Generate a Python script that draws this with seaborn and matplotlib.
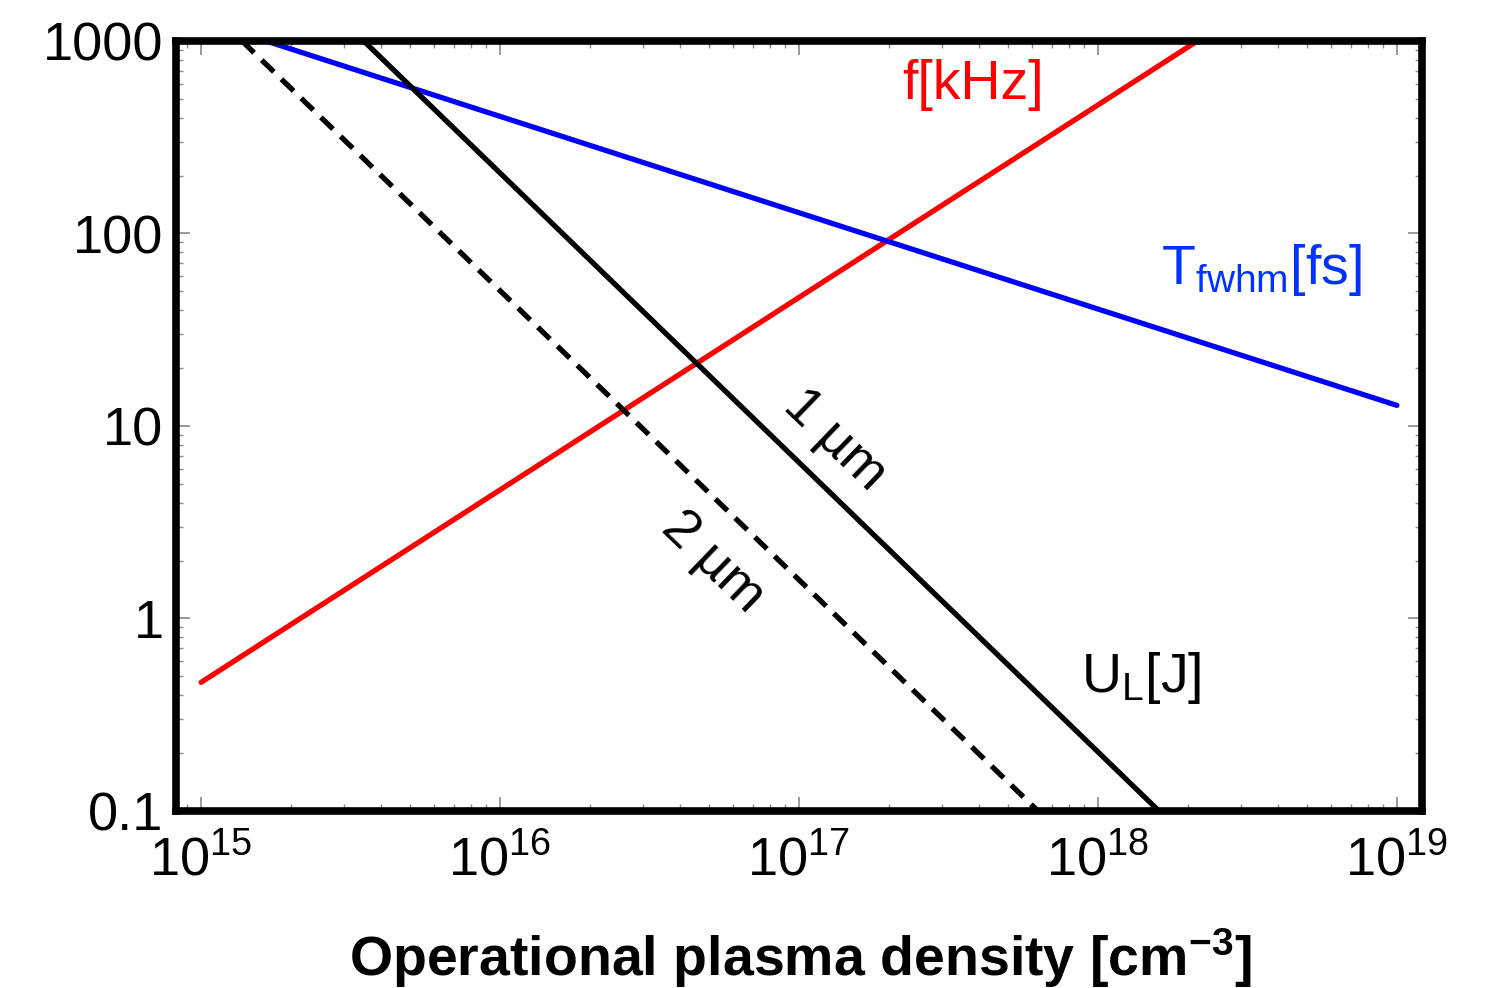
import matplotlib
matplotlib.use("Agg")
import matplotlib.pyplot as plt
import matplotlib.ticker as mticker
import seaborn as sns
import pandas as pd

# values (log-log, straight lines -> endpoints)
density_f = [1.0e15, 2.15e18]
freq_khz = [0.466, 1000]

density_t = [1.65e15, 1.0e19]
tfwhm_fs = [1000, 12.8]

density_u1 = [3.5e15, 1.6e18]
energy_1um = [1000, 0.1]

density_u2 = [1.37e15, 6.3e17]
energy_2um = [1000, 0.1]

y_ticks = [0.1, 1, 10, 100, 1000]
y_tick_labels = ["0.1", "1", "10", "100", "1000"]

sns.set_style("ticks")
plt.rcParams["font.family"] = ["Liberation Sans", "DejaVu Sans"]
plt.rcParams["mathtext.fontset"] = "custom"
plt.rcParams["mathtext.rm"] = "Liberation Sans"
plt.rcParams["mathtext.it"] = "Liberation Sans:italic"
plt.rcParams["mathtext.bf"] = "Liberation Sans:bold"
plt.rcParams["text.color"] = "black"
plt.rcParams["axes.labelcolor"] = "black"

fig = plt.figure(figsize=(14.9, 9.88), dpi=100)
ax = fig.add_axes([176 / 1490, 1 - 811 / 988, 1246 / 1490, 770 / 988])

f_df = pd.DataFrame({"n": density_f, "v": freq_khz})
t_df = pd.DataFrame({"n": density_t, "v": tfwhm_fs})
u1_df = pd.DataFrame({"n": density_u1, "v": energy_1um})
u2_df = pd.DataFrame({"n": density_u2, "v": energy_2um})

lw = 3.8
sns.lineplot(data=f_df, x="n", y="v", ax=ax, color="#ff0000", lw=lw)
sns.lineplot(data=t_df, x="n", y="v", ax=ax, color="#0000ff", lw=lw)
sns.lineplot(data=u1_df, x="n", y="v", ax=ax, color="black", lw=lw)
sns.lineplot(data=u2_df, x="n", y="v", ax=ax, color="black", lw=lw,
             linestyle=(0, (3.2, 2.0)))

ax.set_xscale("log")
ax.set_yscale("log")
ax.set_xlim(10 ** 14.916, 10 ** 19.084)
ax.set_ylim(0.1, 1000)

ax.set_yticks(y_ticks)
ax.set_yticklabels(y_tick_labels)
ax.yaxis.set_minor_formatter(mticker.NullFormatter())
ax.xaxis.set_major_locator(mticker.LogLocator(base=10, numticks=10))
ax.xaxis.set_minor_locator(mticker.LogLocator(base=10, subs=range(2, 10), numticks=20))
ax.xaxis.set_minor_formatter(mticker.NullFormatter())

ax.tick_params(which="both", direction="in", top=True, right=True,
               color="#888888", labelsize=39, labelcolor="black")
ax.tick_params(which="major", length=10, width=1.2)
ax.tick_params(which="minor", length=5, width=1.0)
ax.tick_params(axis="y", which="major", pad=9)
ax.tick_params(axis="x", which="major", pad=17)

for sp in ax.spines.values():
    sp.set_linewidth(5.5)
    sp.set_color("black")

ax.set_xlabel(r"Operational plasma density [cm$^{\mathbf{-3}}$]",
              fontsize=40, fontweight="bold", color="black")
ax.xaxis.label.set_va("center")
ax.xaxis.set_label_coords(0.5008, -0.191)
ax.set_ylabel("")

ax.text(3.82e17, 590, "f[kHz]", color="#ff0000", fontsize=40,
        ha="center", va="center")
ax.text(3.53e18, 64.6, r"T$_{\rm fwhm}$[fs]", color="#0033ff", fontsize=40,
        ha="center", va="center")
ax.text(1.40e18, 0.49, r"U$_{\rm L}$[J]", color="black", fontsize=40,
        ha="center", va="center")
ax.text(1.32e17, 8.45, "1 µm", color="black", fontsize=39, rotation=-44,
        rotation_mode="anchor", ha="center", va="center")
ax.text(5.15e16, 1.97, "2 µm", color="black", fontsize=39, rotation=-44,
        rotation_mode="anchor", ha="center", va="center")

fig.savefig("out.png", dpi=100)
